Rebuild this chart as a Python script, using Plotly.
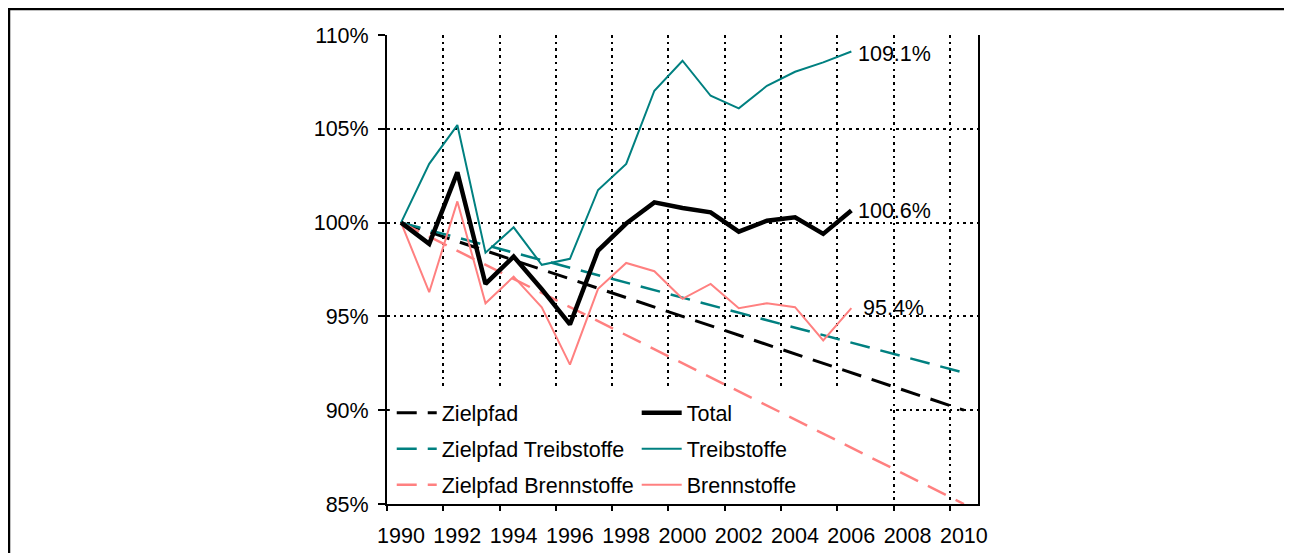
import plotly.graph_objects as go

years = list(range(1990, 2007))
total = [100.0, 98.87, 102.68, 96.73, 98.19, 96.45, 94.57, 98.51, 99.95, 101.08,
         100.78, 100.55, 99.52, 100.1, 100.28, 99.4, 100.64]
treibstoffe = [100.0, 103.13, 105.2, 98.4, 99.75, 97.75, 98.07, 101.74, 103.13, 107.03,
               108.63, 106.76, 106.09, 107.29, 108.04, 108.54, 109.12]
brennstoffe = [100.0, 96.29, 101.13, 95.7, 97.12, 95.49, 92.43, 96.47, 97.85, 97.41,
               95.94, 96.73, 95.44, 95.7, 95.49, 93.72, 95.44]

# Zielpfade: Start- und Endpunkt
ziel_years = [1990, 2010]
ziel_total = [100, 90]
ziel_treib = [100, 92]
ziel_brenn = [100, 85]

tick_years = list(range(1990, 2011, 2))
y_ticks = [85, 90, 95, 100, 105, 110]

BLACK = "#000000"
TEAL = "#008080"
SALMON = "#FF8080"
FONT = "Liberation Sans, Arial, sans-serif"
FSIZE = 21.5
DASH = "20px,11px"

fig = go.Figure()

# dashed target paths (left legend column)
for name, vals, color, width, rank in [
    ("Zielpfad", ziel_total, BLACK, 3, 1),
    ("Zielpfad Treibstoffe", ziel_treib, TEAL, 2.5, 2),
    ("Zielpfad Brennstoffe", ziel_brenn, SALMON, 2.5, 3),
]:
    fig.add_trace(go.Scatter(
        x=ziel_years, y=vals, name=name, mode="lines",
        line=dict(color=color, width=width, dash=DASH),
        legend="legend", legendgroup=name, legendrank=rank,
    ))

# actual series (right legend column)
for name, vals, color, width, rank in [
    ("Brennstoffe", brennstoffe, SALMON, 2, 3),
    ("Treibstoffe", treibstoffe, TEAL, 2, 2),
    ("Total", total, BLACK, 4.5, 1),
]:
    fig.add_trace(go.Scatter(
        x=years, y=vals, name=name, mode="lines",
        line=dict(color=color, width=width),
        legend="legend2", legendgroup=name, legendrank=rank,
    ))

# end labels
for vals, xs, ys in [(treibstoffe, 5, -2), (total, 5, 0), (brennstoffe, 10, 0)]:
    fig.add_annotation(
        x=years[-1], y=vals[-1], text=f"{vals[-1]:.1f}%",
        showarrow=False, xanchor="left", xshift=xs, yshift=ys,
        font=dict(family=FONT, size=FSIZE, color=BLACK),
    )

# white box behind the legend: above the grid, below the lines
fig.add_shape(
    type="rect", xref="x", yref="y",
    x0=1989.6, x1=2007.29, y0=85.1, y1=91.17,
    fillcolor="white", line_width=0, layer="between",
)

# outer frame
fig.add_shape(
    type="rect", xref="paper", yref="paper",
    x0=-0.6396, x1=1.5296, y0=-0.3, y1=1.0554,
    line=dict(color=BLACK, width=2.5), fillcolor="rgba(0,0,0,0)", layer="above",
)

grid = dict(showgrid=True, gridcolor=BLACK, gridwidth=2.2, griddash="2.6px,4.1px")

legend_common = dict(
    orientation="v", bgcolor="rgba(0,0,0,0)", borderwidth=0,
    font=dict(family=FONT, size=FSIZE, color=BLACK),
    itemwidth=40, tracegroupgap=5, xanchor="left", yanchor="top",
)

fig.update_layout(
    width=1292, height=553,
    margin=dict(l=379, r=322, t=27, b=57),
    paper_bgcolor="white", plot_bgcolor="white",
    font=dict(family=FONT, size=FSIZE, color=BLACK),
    xaxis=dict(
        range=[1989.5, 2010.5],
        tickvals=[y - 0.5 for y in tick_years],
        ticktext=[str(y) for y in tick_years],
        ticklabelshift=14, ticklabelstandoff=6,
        ticks="outside", ticklen=5, tickwidth=1.5, tickcolor=BLACK,
        showline=True, linecolor=BLACK, linewidth=2,
        zeroline=False, **grid,
    ),
    yaxis=dict(
        range=[85, 110],
        tickvals=y_ticks, ticktext=[f"{v}%" for v in y_ticks],
        ticklabelstandoff=5,
        ticks="outside", ticklen=7, tickwidth=1.5, tickcolor=BLACK,
        showline=True, linecolor=BLACK, linewidth=2, mirror=True,
        zeroline=False, **grid,
    ),
    legend=dict(x=0.008, y=0.238, **legend_common),
    legend2=dict(x=0.4225, y=0.238, **legend_common),
)

fig.write_html("out.html")
